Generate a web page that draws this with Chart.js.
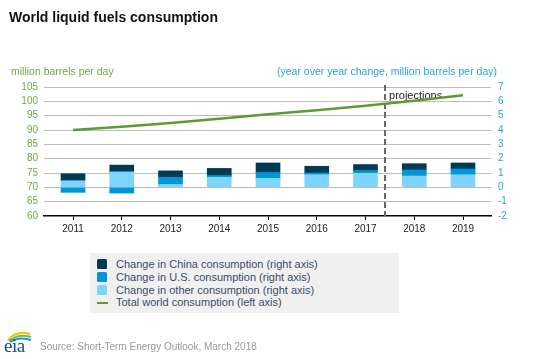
<!DOCTYPE html>
<html>
<head>
<meta charset="utf-8">
<script src="https://cdn.jsdelivr.net/npm/chart.js@4.4.1/dist/chart.umd.min.js"></script>
<style>
  body { margin: 0; width: 538px; height: 359px; position: relative; background: #fff; overflow: hidden;
         font-family: "Liberation Sans", Arial, sans-serif; }
  #chart { position: absolute; left: 0; top: 0; }
  .t { position: absolute; white-space: nowrap; }
  #title { left: 9px; top: 10px; font-size: 14px; line-height: 14px; font-weight: bold; color: #111; }
  #leftTitle { left: 11px; top: 65px; font-size: 10.5px; line-height: 12px; color: #77a546; }
  #rightTitle { right: 41px; top: 65px; font-size: 10.5px; line-height: 12px; color: #29a3dd; }
  #legend { position: absolute; left: 90px; top: 253px; width: 309px; height: 60px; background: #f0f0f0; }
  .row { position: absolute; left: 7px; height: 12.5px; font-size: 11px; line-height: 12.5px; color: #3b4c69; }
  .sw { position: absolute; left: 0; top: 1px; width: 10px; height: 10px; border-radius: 1.5px; }
  .ln { position: absolute; left: 0; top: 6px; width: 11px; height: 2px; background: #5e9a33; }
  .row span { position: absolute; left: 19px; top: 0; white-space: nowrap; }
  #source { left: 40px; top: 341px; font-size: 10px; line-height: 12px; color: #999; }
  #logo { position: absolute; left: 3px; top: 328px; }
</style>
</head>
<body>
<canvas id="chart" width="538" height="359"></canvas>
<div class="t" id="title">World liquid fuels consumption</div>
<div class="t" id="leftTitle">million barrels per day</div>
<div class="t" id="rightTitle">(year over year change, million barrels per day)</div>
<div id="legend">
  <div class="row" style="top:5px"><div class="sw" style="background:#003a55"></div><span>Change in China consumption (right axis)</span></div>
  <div class="row" style="top:18px"><div class="sw" style="background:#0096d6"></div><span>Change in U.S. consumption (right axis)</span></div>
  <div class="row" style="top:30.5px"><div class="sw" style="background:#7fd4fc"></div><span>Change in other consumption (right axis)</span></div>
  <div class="row" style="top:43px"><div class="ln"></div><span>Total world consumption (left axis)</span></div>
</div>
<svg id="logo" width="32" height="26" viewBox="0 0 32 26">
  <path d="M5 12 Q14 2 27 6" stroke="#f2c200" stroke-width="2" fill="none"/>
  <path d="M6 13 Q15 5 28 9" stroke="#7ab648" stroke-width="2" fill="none"/>
  <path d="M7 14 Q16 8 28 12" stroke="#1a9bd7" stroke-width="2" fill="none"/>
  <text x="1" y="24" font-family="Liberation Serif, serif" font-size="19" fill="#0f4d7e" letter-spacing="-0.5">eia</text>
</svg>
<div class="t" id="source">Source: Short-Term Energy Outlook, March 2018</div>

<script>
// Données
const years = [2011, 2012, 2013, 2014, 2015, 2016, 2017, 2018, 2019];
const chinaChange = [0.49, 0.47, 0.46, 0.5, 0.67, 0.47, 0.42, 0.44, 0.42];
const usChange = [-0.35, -0.4, 0.49, 0.12, 0.4, 0.12, 0.19, 0.42, 0.4];
const otherChange = [0.46, 1.08, 0.2, 0.7, 0.63, 0.88, 0.98, 0.79, 0.88];
const worldTotal = [90.0, 91.1, 92.4, 93.9, 95.5, 96.9, 98.5, 100.2, 102.1];

// Axes
const leftMin = 60, leftMax = 105, leftStep = 5;
const rightMin = -2, rightMax = 7, rightStep = 1;
const xMin = 2010.405, xMax = 2019.574;
const projectionStart = 2017.4;

function points(values) {
    return years.map((yr, i) => ({ x: yr, y: values[i] }));
}

// Ligne pointillée "projections"
const projectionPlugin = {
    id: 'projection',
    beforeDatasetsDraw(chart) {
        const { ctx, chartArea, scales } = chart;
        const px = scales.x.getPixelForValue(projectionStart);
        ctx.save();
        ctx.strokeStyle = '#666';
        ctx.lineWidth = 2;
        ctx.setLineDash([6, 3]);
        ctx.beginPath();
        ctx.moveTo(px, chartArea.top - 2);
        ctx.lineTo(px, chartArea.bottom);
        ctx.stroke();
        ctx.setLineDash([]);
        ctx.fillStyle = '#222';
        ctx.font = '11px "Liberation Sans", Arial, sans-serif';
        ctx.textBaseline = 'middle';
        ctx.fillText('projections', px + 4, chartArea.top + 9);
        ctx.restore();
    }
};

const barCommon = { type: 'bar', yAxisID: 'y1', xAxisID: 'x', stack: 'change', barThickness: 24 };

new Chart(document.getElementById('chart'), {
    data: {
        datasets: [
            {
                type: 'line',
                label: 'Total world consumption (left axis)',
                data: points(worldTotal),
                yAxisID: 'y',
                xAxisID: 'x',
                borderColor: '#5e9a33',
                borderWidth: 2.5,
                pointRadius: 0,
                tension: 0,
                order: 0
            },
            { ...barCommon, label: 'Change in other consumption (right axis)', data: points(otherChange), backgroundColor: '#7fd4fc', order: 1 },
            { ...barCommon, label: 'Change in U.S. consumption (right axis)', data: points(usChange), backgroundColor: '#0096d6', order: 1 },
            { ...barCommon, label: 'Change in China consumption (right axis)', data: points(chinaChange), backgroundColor: '#003a55', order: 1 }
        ]
    },
    options: {
        responsive: false,
        animation: false,
        devicePixelRatio: 1,
        layout: { padding: { top: 87, left: 0, right: 0, bottom: 0 } },
        plugins: {
            legend: { display: false },
            tooltip: { enabled: false }
        },
        scales: {
            x: {
                type: 'linear',
                min: xMin,
                max: xMax,
                offset: false,
                stacked: true,
                afterBuildTicks: s => { s.ticks = years.map(v => ({ value: v })); },
                afterFit: s => { s.height = 143; },
                grid: { offset: false, drawOnChartArea: false, drawTicks: true, tickLength: 4, color: '#000' },
                border: { color: '#000', width: 1.5 },
                ticks: { autoSkip: false, maxRotation: 0, padding: 3, color: '#222', font: { size: 10, family: '"Liberation Sans", Arial' }, callback: v => String(v) }
            },
            y: {
                position: 'left',
                min: leftMin,
                max: leftMax,
                afterFit: s => { s.width = 44; },
                ticks: { autoSkip: false, stepSize: leftStep, color: '#77a546', padding: 6, font: { size: 10, family: '"Liberation Sans", Arial' } },
                grid: {
                    drawTicks: false,
                    color: c => (c.tick && c.tick.value === leftMin ? 'rgba(0,0,0,0)' : '#bdbdbd')
                },
                border: { display: false }
            },
            y1: {
                position: 'right',
                min: rightMin,
                max: rightMax,
                stacked: true,
                afterFit: s => { s.width = 47; },
                ticks: { autoSkip: false, stepSize: rightStep, color: '#29a3dd', padding: 7, font: { size: 10, family: '"Liberation Sans", Arial' } },
                grid: { drawOnChartArea: false, drawTicks: false },
                border: { display: false }
            }
        }
    },
    plugins: [projectionPlugin]
});
</script>
</body>
</html>
